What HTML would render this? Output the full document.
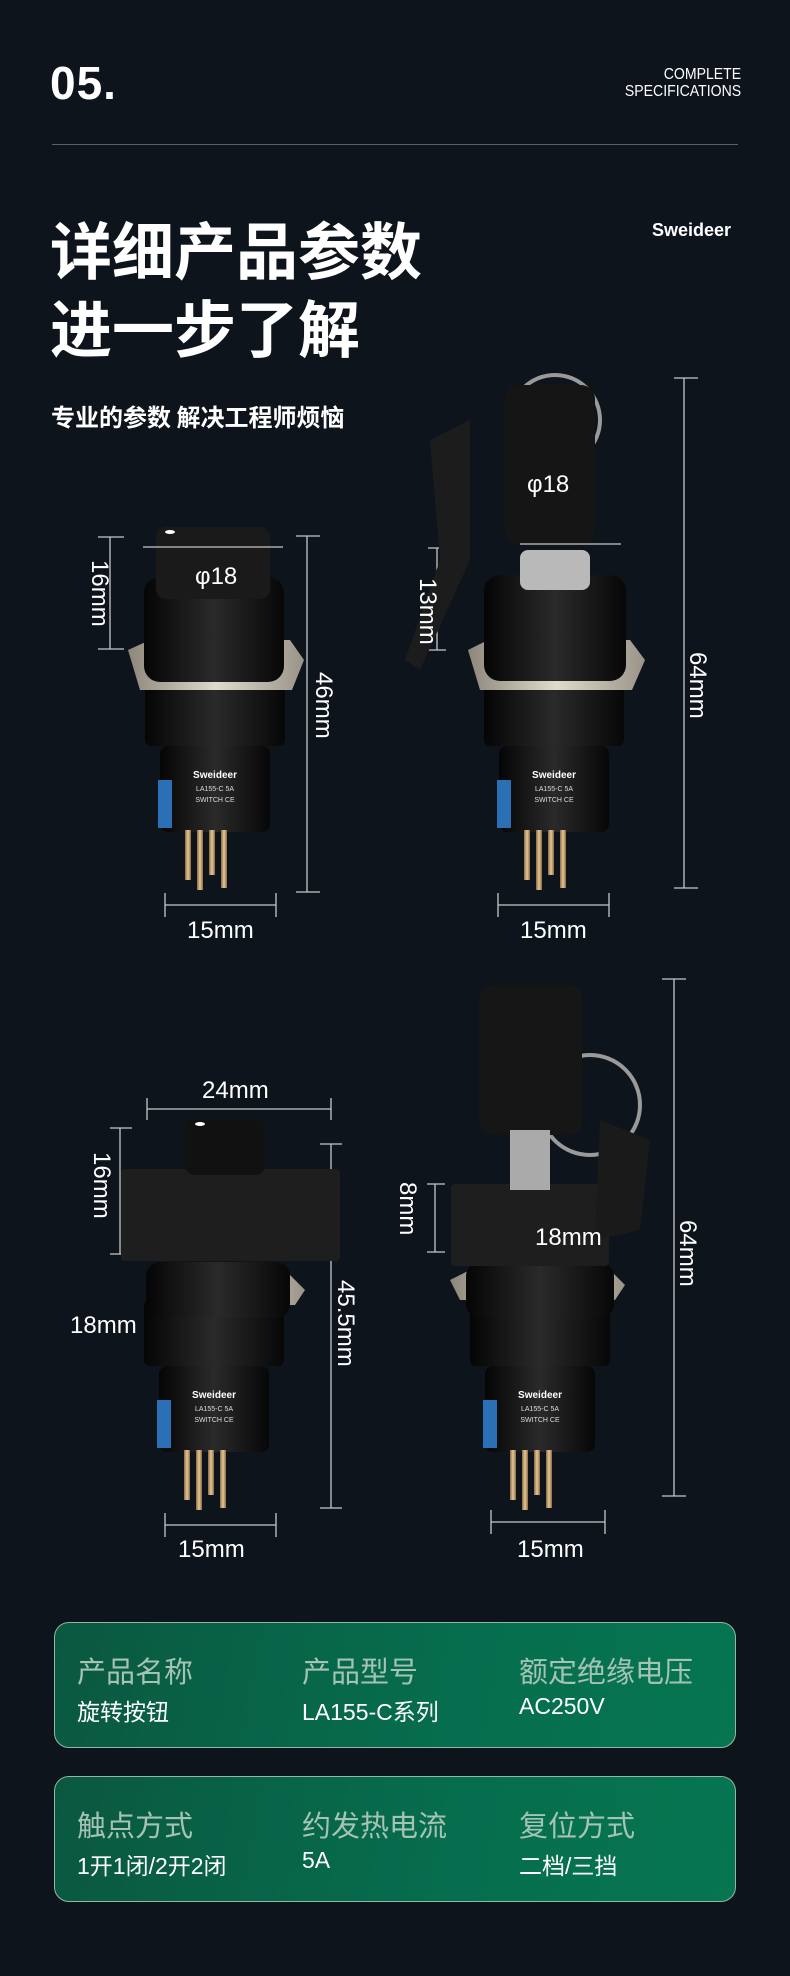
<!DOCTYPE html>
<html><head><meta charset="utf-8"><style>
*{margin:0;padding:0}
body{width:790px;height:1976px;background:#0e141c;position:relative;overflow:hidden;font-family:"Liberation Sans","Noto Sans CJK SC",sans-serif;color:#fff}
.abs{position:absolute;white-space:nowrap}
.box{position:absolute;left:54px;width:680px;height:124px;border:1.5px solid #8fb9a5;border-radius:15px;background:linear-gradient(100deg,#0a5840 0%,#066e4e 60%,#067550 100%)}
.lab{position:absolute;top:26px;font-size:29px;color:#a4c3b4;font-family:"Liberation Sans","Noto Sans CJK SC",sans-serif}
.val{position:absolute;top:70px;font-size:23px;color:#fff}
</style></head><body>
<div class="abs" style="left:50px;top:56px;font-size:46px;font-weight:bold;letter-spacing:1px">05.</div>
<div class="abs" style="right:49px;top:66px;font-size:16px;line-height:17px;text-align:right;transform:scaleX(0.88);transform-origin:right">COMPLETE<br>SPECIFICATIONS</div>
<div class="abs" style="left:52px;top:144px;width:686px;height:1px;background:#5a6068"></div>
<div class="abs" style="left:50px;top:208px;font-size:62px;font-weight:bold;line-height:78px;font-family:'Noto Sans CJK SC',sans-serif">详细产品参数<br>进一步了解</div>
<div class="abs" style="left:652px;top:220px;font-size:18px;font-weight:bold">Sweideer</div>
<div class="abs" style="left:51px;top:398px;font-size:24px;font-weight:bold;font-family:'Noto Sans CJK SC',sans-serif">专业的参数 解决工程师烦恼</div>

<svg class="abs" style="left:0;top:0" width="790" height="1976" viewBox="0 0 790 1976">
<defs>
<linearGradient id="blk" x1="0" x2="1"><stop offset="0" stop-color="#050505"/><stop offset=".5" stop-color="#2a2a2a"/><stop offset="1" stop-color="#070707"/></linearGradient>
<linearGradient id="met" x1="0" x2="1"><stop offset="0" stop-color="#8d877b"/><stop offset=".5" stop-color="#e0dacd"/><stop offset="1" stop-color="#9a9488"/></linearGradient>
<linearGradient id="gold" x1="0" x2="1"><stop offset="0" stop-color="#8a6a40"/><stop offset=".5" stop-color="#e6c79a"/><stop offset="1" stop-color="#8a6a40"/></linearGradient>
<g id="base">
<rect x="-70" y="0" width="140" height="66" rx="6" fill="url(#blk)"/>
<rect x="-55" y="66" width="110" height="86" rx="8" fill="url(#blk)"/>
<rect x="-57" y="100" width="14" height="48" fill="#2b6fb6"/>
<text x="0" y="98" font-size="10" fill="#fff" text-anchor="middle" font-weight="bold">Sweideer</text>
<text x="0" y="111" font-size="7" fill="#ddd" text-anchor="middle">LA155-C 5A</text>
<text x="0" y="122" font-size="7" fill="#ddd" text-anchor="middle">SWITCH CE</text>
<rect x="-30" y="150" width="6" height="50" fill="url(#gold)"/>
<rect x="-18" y="150" width="6" height="60" fill="url(#gold)"/>
<rect x="-6" y="150" width="6" height="45" fill="url(#gold)"/>
<rect x="6" y="150" width="6" height="58" fill="url(#gold)"/>
</g>
</defs>
<g stroke="#c8c8c8" stroke-width="1.3" fill="none">
<path d="M110 537V649M98 537H124M98 649H124"/>
<path d="M307 536V892M296 536H320M296 892H320"/>
<path d="M165 905H276M165 893V917M276 893V917"/>
<path d="M684 378V888M674 378H698M674 888H698"/>
<path d="M498 905H609M498 893V917M609 893V917"/>
<path d="M437 548V650M428 548H446M428 650H446"/>
<path d="M147 1109H331M147 1098V1120M331 1098V1120"/>
<path d="M120 1128V1254M110 1128H132M110 1254H132"/>
<path d="M331 1144V1508M320 1144H342M320 1508H342"/>
<path d="M165 1525H276M165 1513V1537M276 1513V1537"/>
<path d="M674 979V1496M662 979H686M662 1496H686"/>
<path d="M435 1184V1252M427 1184H445M427 1252H445"/>
<path d="M491 1522H605M491 1510V1534M605 1510V1534"/>
</g>
<!-- TL product -->
<use href="#base" x="215" y="680"/>
<path d="M128 650L150 640H290L304 660L292 690H140Z" fill="url(#met)"/>
<rect x="144" y="577" width="140" height="105" rx="16" fill="url(#blk)"/>
<rect x="156" y="527" width="114" height="72" rx="10" fill="#1a1a1a"/>
<ellipse cx="170" cy="532" rx="5" ry="2" fill="#fff"/>
<path d="M143 547H283" stroke="#c8c8c8" stroke-width="1.3"/>
<!-- TR product -->
<use href="#base" x="554" y="680"/>
<path d="M468 650L488 640H630L645 660L632 690H480Z" fill="url(#met)"/>
<rect x="484" y="575" width="142" height="106" rx="16" fill="url(#blk)"/>
<rect x="520" y="550" width="70" height="40" rx="8" fill="#b9b9b9"/>
<path d="M430 440L470 420L470 560L420 670L405 660L440 560Z" fill="#1c1c1c"/>
<circle cx="555" cy="420" r="45" fill="none" stroke="#9a9a9a" stroke-width="4"/>
<rect x="505" y="385" width="90" height="160" rx="14" fill="#151515"/>
<path d="M520 544H621" stroke="#c8c8c8" stroke-width="1.3"/>
<!-- BL product -->
<use href="#base" x="214" y="1300"/>
<path d="M150 1285L170 1275H290L305 1290L295 1305H155Z" fill="url(#met)"/>
<rect x="146" y="1262" width="144" height="56" rx="14" fill="url(#blk)"/>
<rect x="121" y="1169" width="219" height="92" rx="4" fill="#1e1e1e"/>
<rect x="185" y="1119" width="80" height="56" rx="10" fill="#111"/>
<ellipse cx="200" cy="1124" rx="5" ry="2" fill="#fff"/>
<!-- BR product -->
<use href="#base" x="540" y="1300"/>
<path d="M450 1280L470 1270H610L625 1285L615 1300H460Z" fill="url(#met)"/>
<rect x="466" y="1262" width="148" height="56" rx="14" fill="url(#blk)"/>
<rect x="451" y="1184" width="158" height="82" rx="4" fill="#1e1e1e"/>
<circle cx="590" cy="1105" r="50" fill="none" stroke="#9a9a9a" stroke-width="4"/>
<path d="M600 1120L650 1140L640 1230L595 1240Z" fill="#1a1a1a"/>
<rect x="479" y="985" width="103" height="150" rx="14" fill="#161616"/>
<rect x="510" y="1130" width="40" height="60" fill="#aaa"/>
<g fill="#fff" font-size="24" font-family="Liberation Sans,sans-serif">
<text x="195" y="584">φ18</text>
<text x="187" y="938">15mm</text>
<text x="520" y="938">15mm</text>
<text x="527" y="492">φ18</text>
<text x="202" y="1098">24mm</text>
<text x="70" y="1333">18mm</text>
<text x="178" y="1557">15mm</text>
<text x="517" y="1557">15mm</text>
<text x="535" y="1245">18mm</text>
<text transform="translate(92,560) rotate(90)">16mm</text>
<text transform="translate(316,672) rotate(90)">46mm</text>
<text transform="translate(690,652) rotate(90)">64mm</text>
<text transform="translate(420,578) rotate(90)">13mm</text>
<text transform="translate(94,1152) rotate(90)">16mm</text>
<text transform="translate(338,1280) rotate(90)">45.5mm</text>
<text transform="translate(680,1220) rotate(90)">64mm</text>
<text transform="translate(400,1182) rotate(90)">8mm</text>
</g>
</svg>

<div class="box" style="top:1622px">
<div class="lab" style="left:22px">产品名称</div><div class="val" style="left:22px">旋转按钮</div>
<div class="lab" style="left:247px">产品型号</div><div class="val" style="left:247px">LA155-C系列</div>
<div class="lab" style="left:464px">额定绝缘电压</div><div class="val" style="left:464px">AC250V</div>
</div>
<div class="box" style="top:1776px">
<div class="lab" style="left:22px">触点方式</div><div class="val" style="left:22px">1开1闭/2开2闭</div>
<div class="lab" style="left:247px">约发热电流</div><div class="val" style="left:247px">5A</div>
<div class="lab" style="left:464px">复位方式</div><div class="val" style="left:464px">二档/三挡</div>
</div>
</body></html>
